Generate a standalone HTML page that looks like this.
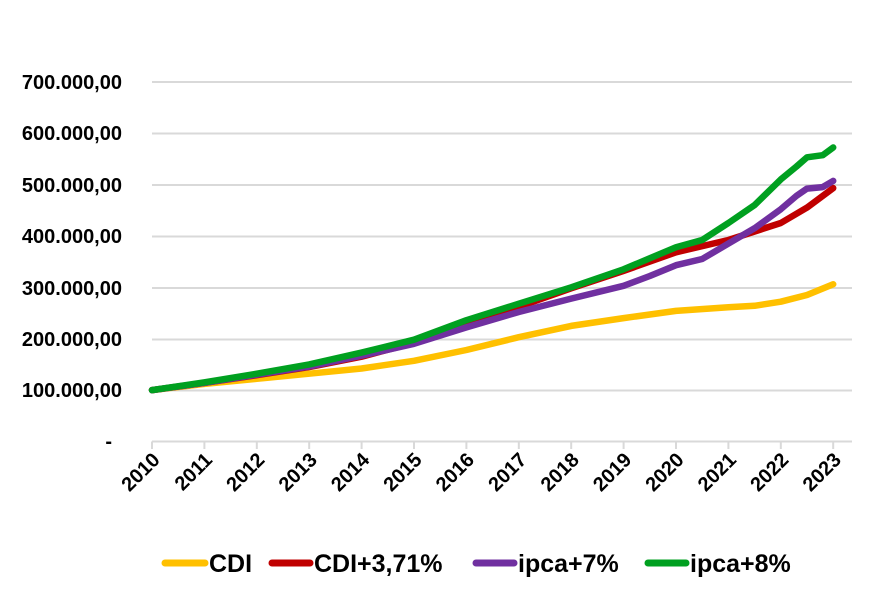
<!DOCTYPE html>
<html><head><meta charset="utf-8"><style>
html,body{margin:0;padding:0;background:#fff;}
svg{display:block;font-family:"Liberation Sans",sans-serif;font-weight:bold;}
</style></head><body>
<svg id="c" width="886" height="610" viewBox="0 0 886 610" xmlns="http://www.w3.org/2000/svg">
<g stroke="#d9d9d9" stroke-width="2">
<line x1="152" y1="82" x2="852" y2="82"/>
<line x1="152" y1="133.5" x2="852" y2="133.5"/>
<line x1="152" y1="185" x2="852" y2="185"/>
<line x1="152" y1="236.5" x2="852" y2="236.5"/>
<line x1="152" y1="288" x2="852" y2="288"/>
<line x1="152" y1="339.5" x2="852" y2="339.5"/>
<line x1="152" y1="390.5" x2="852" y2="390.5"/>
<line x1="152" y1="441.5" x2="852" y2="441.5"/>
</g>
<g font-size="20" text-anchor="end" fill="#000">
<text x="122" y="89">700.000,00</text>
<text x="122" y="140">600.000,00</text>
<text x="122" y="192">500.000,00</text>
<text x="122" y="243">400.000,00</text>
<text x="122" y="295">300.000,00</text>
<text x="122" y="346">200.000,00</text>
<text x="122" y="397">100.000,00</text>
<text x="112" y="448">-</text>
</g>
<g id="ticks" stroke="#d9d9d9" stroke-width="2"></g>
<g id="yrs" font-size="20" fill="#000"></g>
<g id="lines" fill="none" stroke-width="6.5" stroke-linejoin="round" stroke-linecap="round"></g>
<g font-size="25" fill="#000">
<line x1="165" y1="563" x2="205" y2="563" stroke="#ffc000" stroke-width="7" stroke-linecap="round"/>
<text x="209" y="572">CDI</text>
<line x1="272" y1="563" x2="310" y2="563" stroke="#c00000" stroke-width="7" stroke-linecap="round"/>
<text x="314" y="572">CDI+3,71%</text>
<line x1="476" y1="563" x2="514" y2="563" stroke="#7030a0" stroke-width="7" stroke-linecap="round"/>
<text x="518" y="572">ipca+7%</text>
<line x1="648" y1="563" x2="686" y2="563" stroke="#00a020" stroke-width="7" stroke-linecap="round"/>
<text x="690" y="572">ipca+8%</text>
</g>
</svg>
<script>
var NS="http://www.w3.org/2000/svg";
function X(t){return 152+(t-2010)*52.4;}
function Y(v){return 441.5-v*0.514;}
var tk=document.getElementById("ticks"),yr=document.getElementById("yrs");
for(var i=0;i<=13;i++){
 var x=X(2010+i);
 var l=document.createElementNS(NS,"line");
 l.setAttribute("x1",x);l.setAttribute("x2",x);l.setAttribute("y1",441.5);l.setAttribute("y2",449);tk.appendChild(l);
 var t=document.createElementNS(NS,"text");
 t.setAttribute("text-anchor","end");
 t.setAttribute("transform","translate("+(x+9)+",461) rotate(-45)");
 t.textContent=2010+i;yr.appendChild(t);
}
var S=[
["#ffc000",[[2010,100],[2011,112],[2012,122],[2013,132],[2014,142],[2015,157],[2016,178],[2017,203],[2018,225],[2019,240],[2020,254],[2021,261],[2021.5,264],[2022,272],[2022.5,285],[2023,306]]],
["#c00000",[[2010,100],[2011,114],[2012,129],[2013,145],[2014,165],[2015,192],[2016,228],[2017,262],[2018,298],[2019,332],[2020,368],[2021,392],[2022,425],[2022.5,455],[2023,493]]],
["#7030a0",[[2010,100],[2011,114],[2012,130],[2013,146],[2014,167],[2015,190],[2016,222],[2017,252],[2018,278],[2019,303],[2019.5,322],[2020,343],[2020.5,355],[2021,385],[2021.5,415],[2022,452],[2022.3,478],[2022.5,492],[2022.8,495],[2023,507]]],
["#00a020",[[2010,100],[2011,115],[2012,132],[2013,150],[2014,173],[2015,198],[2016,236],[2017,268],[2018,300],[2019,335],[2020,378],[2020.5,392],[2021,425],[2021.5,460],[2022,510],[2022.3,535],[2022.5,553],[2022.8,557],[2023,572]]]
];
var g=document.getElementById("lines");
S.forEach(function(s){
 var p=document.createElementNS(NS,"polyline");
 p.setAttribute("stroke",s[0]);
 p.setAttribute("points",s[1].map(function(d){return X(d[0]).toFixed(1)+","+Y(d[1]).toFixed(1);}).join(" "));
 g.appendChild(p);
});
</script>
</body></html>
